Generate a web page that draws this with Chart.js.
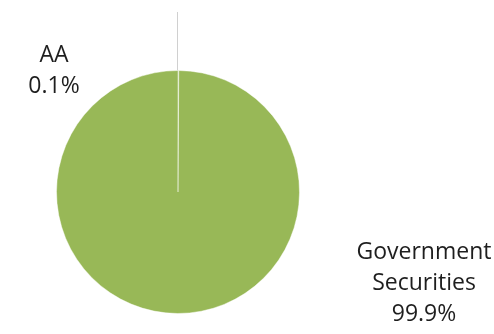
<!DOCTYPE html>
<html>
<head>
<meta charset="utf-8">
<script src="https://cdn.jsdelivr.net/npm/chart.js@4/dist/chart.umd.min.js"></script>
<style>
  html, body { margin: 0; padding: 0; background: #fff; }
  #wrap { width: 494px; height: 334px; }
</style>
</head>
<body>
<div id="wrap"><canvas id="pieChart"></canvas></div>
<script>
var categories = ["AA", "Government Securities"];
var shares = [0.1, 99.9];
var labelLines = [["AA"], ["Government", "Securities"]];

var sliceColors = ["#9BBB59", "#98B857"];

// where each label block is centred (x) and its first baseline (y)
var labelPos = [
  { x: 54, y: 62 },
  { x: 424, y: 259 }
];

var pieLabels = {
  id: "pieLabels",
  afterDatasetsDraw: function (chart) {
    var ctx = chart.ctx;
    var meta = chart.getDatasetMeta(0);
    var first = meta.data[0];

    // leader line above the tiny AA slice
    ctx.save();
    ctx.strokeStyle = "#d0d0d0";
    ctx.lineWidth = 1;
    ctx.beginPath();
    ctx.moveTo(Math.round(first.x) - 0.5, first.y - first.outerRadius);
    ctx.lineTo(Math.round(first.x) - 0.5, 12);
    ctx.stroke();

    ctx.fillStyle = "#1e1e1e";
    ctx.font = "23px 'Open Sans'";
    ctx.textAlign = "center";
    ctx.textBaseline = "alphabetic";
    var lineH = 31;
    shares.forEach(function (v, i) {
      var lines = labelLines[i].concat([v.toFixed(1) + "%"]);
      lines.forEach(function (t, k) {
        ctx.fillText(t, labelPos[i].x, labelPos[i].y + k * lineH);
      });
    });
    ctx.restore();
  }
};

new Chart(document.getElementById("pieChart"), {
  type: "pie",
  data: {
    labels: categories,
    datasets: [{
      data: shares,
      backgroundColor: sliceColors,
      borderColor: "rgba(255,255,255,0.45)",
      borderWidth: 1
    }]
  },
  options: {
    responsive: true,
    maintainAspectRatio: false,
    animation: false,
    layout: { padding: { left: 56, right: 194, top: 70, bottom: 20 } },
    plugins: {
      legend: { display: false },
      tooltip: { enabled: false }
    }
  },
  plugins: [pieLabels]
});
</script>
</body>
</html>
